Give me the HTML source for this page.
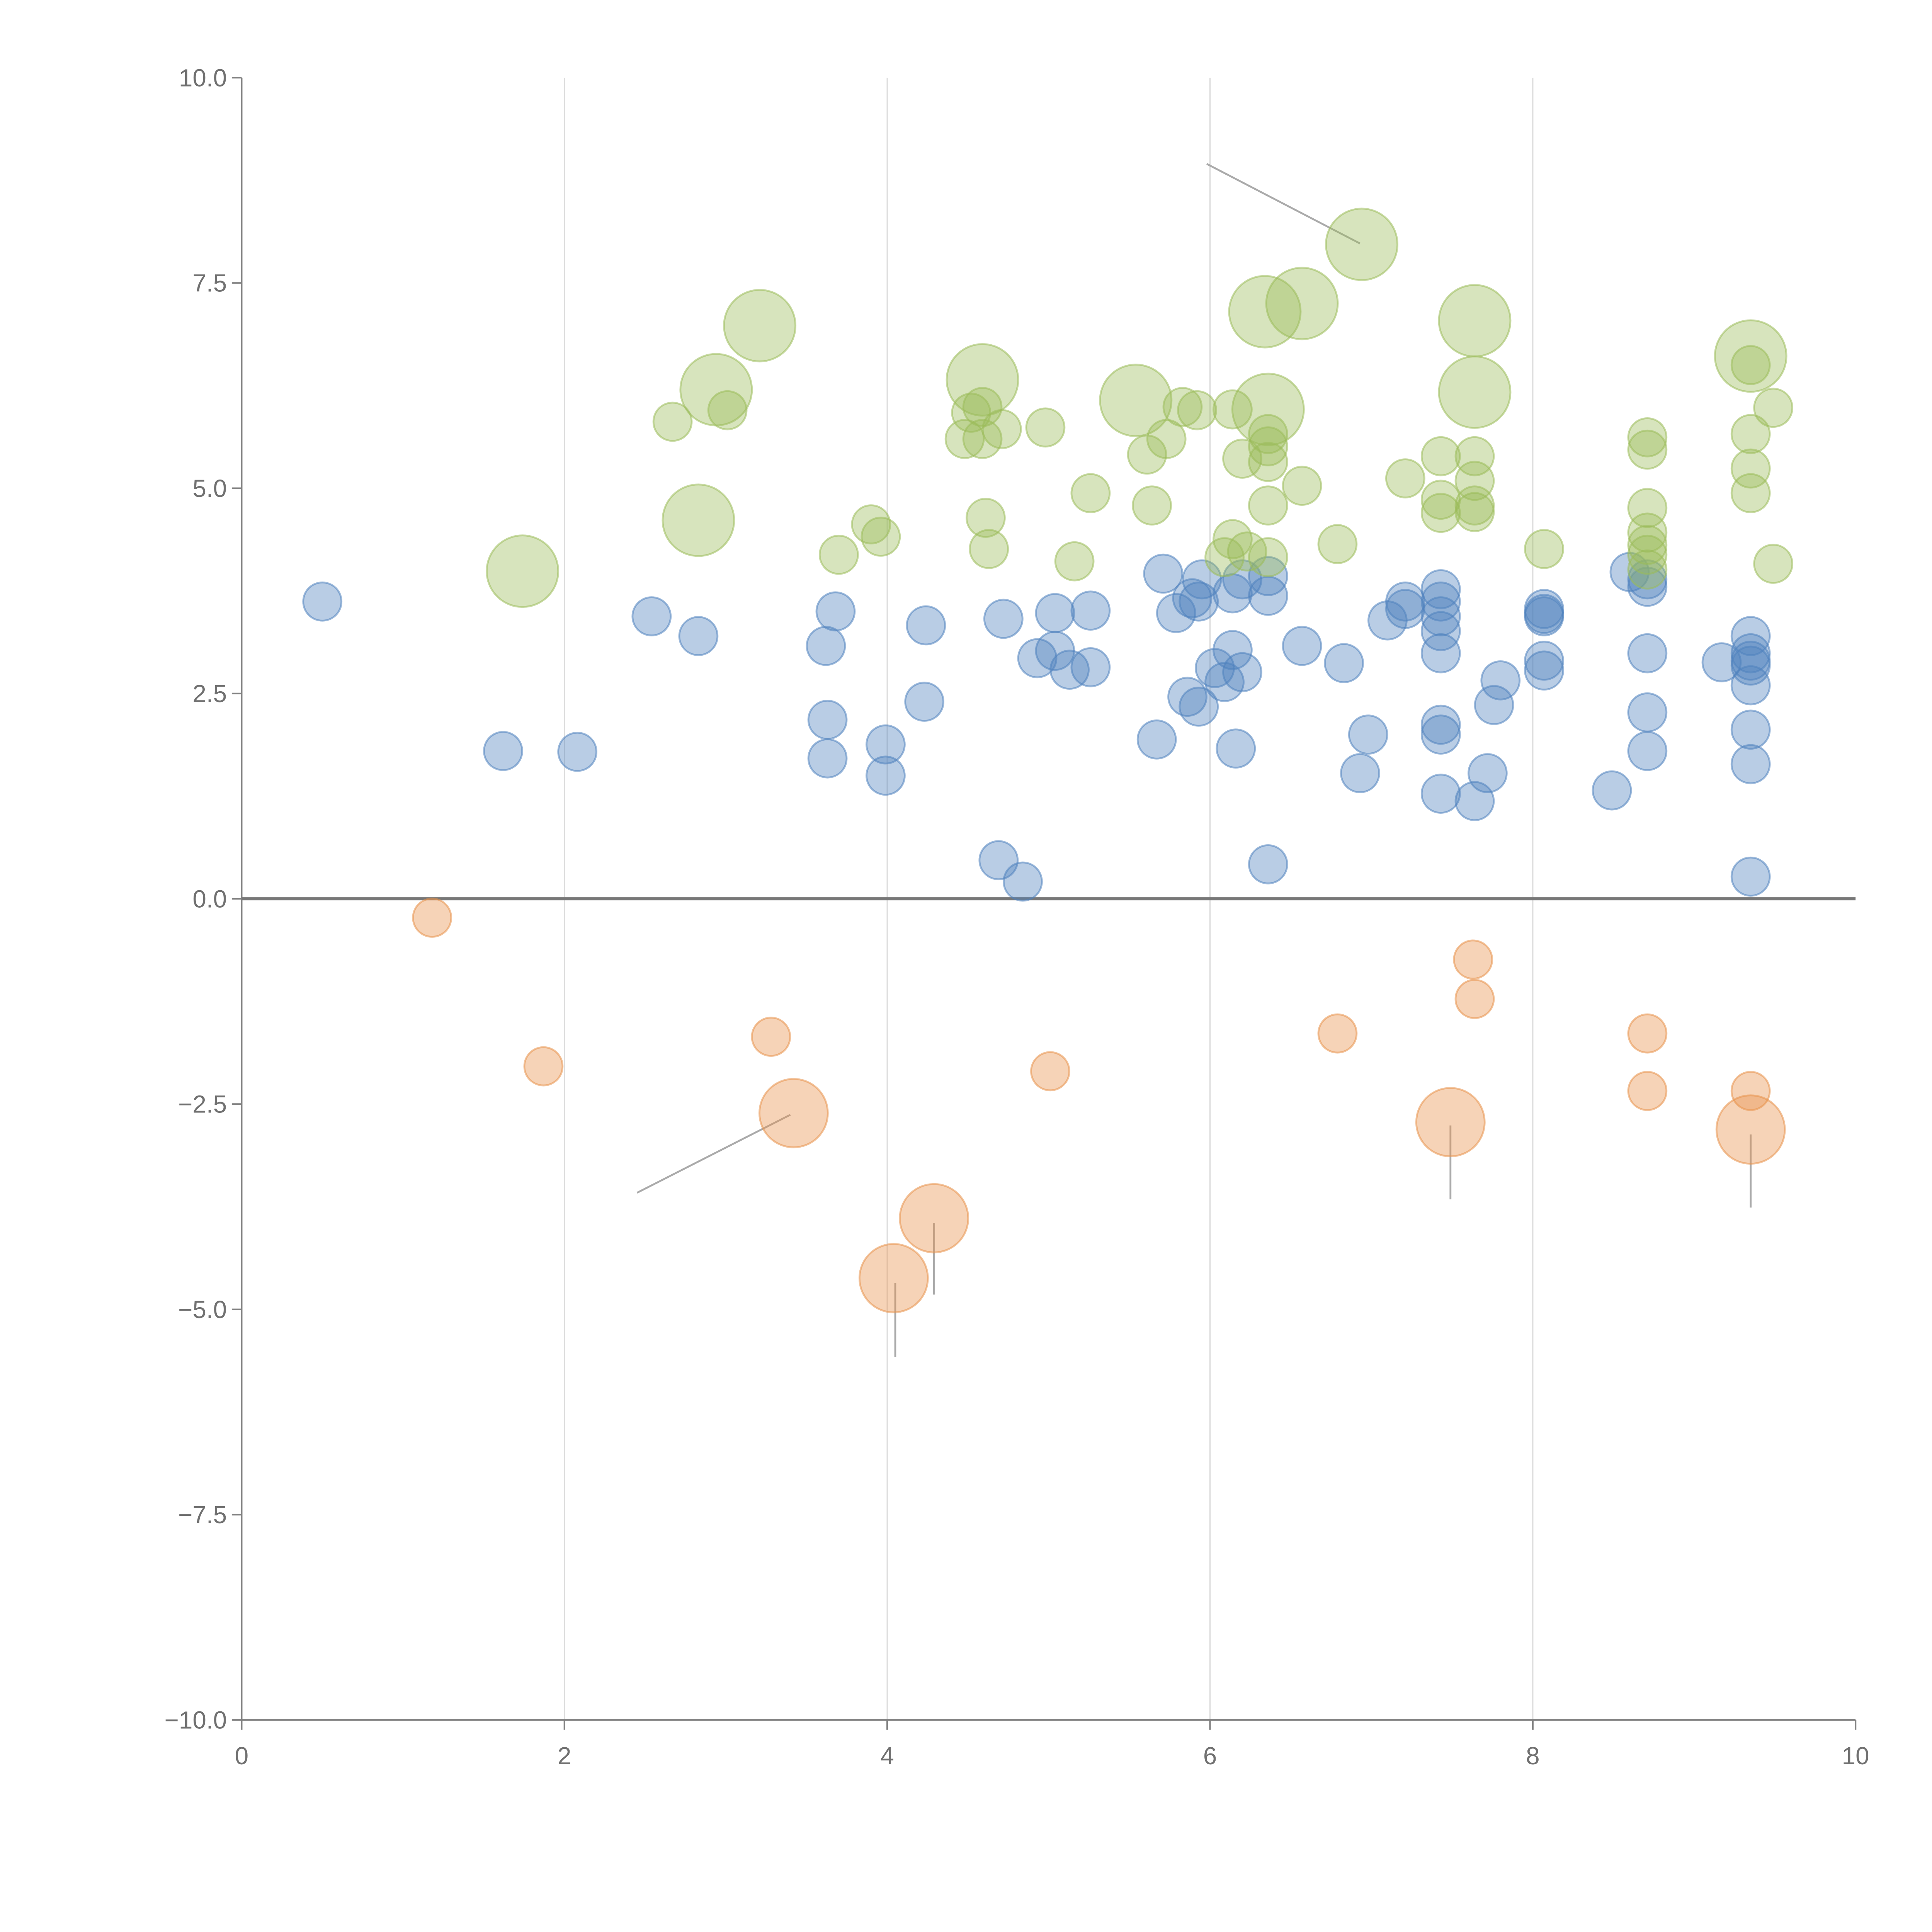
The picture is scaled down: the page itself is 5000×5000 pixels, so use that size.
<!DOCTYPE html>
<html>
<head>
<meta charset="utf-8">
<style>
html,body{margin:0;padding:0;background:#fff;}
svg{display:block;}
text{font-family:"Liberation Sans",Arial,sans-serif;}
</style>
</head>
<body>
<svg id="chart" width="5000" height="5000" viewBox="0 0 1567 1567" xmlns="http://www.w3.org/2000/svg">
  <g id="grid"></g>
  <g id="axes"></g>
  <g id="leaders"></g>
  <g id="marks"></g>
</svg>
<script>
// ---- data ----
const blueX = [0.50,1.62,2.08,2.54,2.83,3.62,3.63,3.63,3.68,3.99,3.99,4.24,4.23,4.69,4.72,4.84,4.93,5.04,5.04,5.13,5.26,5.26,5.67,5.71,5.79,5.86,5.89,5.93,5.93,5.95,6.03,6.09,6.14,6.16,6.14,6.20,6.20,6.36,6.36,6.36,6.57,6.83,6.93,6.98,7.10,7.21,7.21,7.43,7.43,7.43,7.43,7.43,7.43,7.43,7.43,7.64,7.72,7.76,7.80,8.07,8.07,8.07,8.07,8.07,8.49,8.60,8.71,8.71,8.71,8.71,8.71,9.17,9.35,9.35,9.35,9.35,9.35,9.35,9.35,9.35];
const blueY = [3.62,1.80,1.79,3.44,3.20,3.08,2.18,1.71,3.50,1.88,1.50,3.33,2.40,0.47,3.41,0.21,2.93,3.48,3.02,2.79,2.82,3.51,1.94,3.96,3.48,2.46,3.66,2.34,3.62,3.89,2.81,2.64,3.03,1.83,3.72,2.76,3.89,3.93,3.69,0.42,3.08,2.87,1.53,2.00,3.39,3.62,3.53,3.77,3.62,3.44,3.26,2.99,2.12,2.00,1.28,1.19,1.53,2.36,2.66,3.53,3.44,2.90,2.78,3.47,1.32,3.98,3.89,3.80,2.99,2.27,1.80,2.88,3.20,2.99,2.90,2.84,2.60,2.06,1.64,0.27];

const orangeX = [1.18,1.87,3.28,3.42,4.04,4.29,5.01,6.79,7.49,7.63,7.64,8.71,8.71,9.35,9.35];
const orangeY = [-0.23,-2.04,-1.68,-2.61,-4.62,-3.89,-2.10,-1.64,-2.72,-0.74,-1.22,-1.64,-2.34,-2.34,-2.81];
const orangeSize = [1,1,1,3.2,3.2,3.2,1,1,3.2,1,1,1,1,1,3.2];

const greenX = [1.74,2.67,2.83,2.94,3.01,3.21,3.70,3.90,3.96,4.48,4.52,4.59,4.59,4.59,4.61,4.63,4.71,4.98,5.16,5.26,5.54,5.61,5.64,5.73,5.83,5.92,6.09,6.14,6.14,6.20,6.23,6.34,6.36,6.36,6.36,6.36,6.36,6.36,6.57,6.57,6.79,6.94,7.21,7.43,7.43,7.43,7.64,7.64,7.64,7.64,7.64,7.64,8.07,8.71,8.71,8.71,8.71,8.71,8.71,8.71,9.35,9.35,9.35,9.35,9.35,9.49,9.49];
const greenY = [3.99,5.81,4.61,6.20,5.95,6.98,4.19,4.56,4.41,5.60,5.92,6.32,5.60,5.99,4.64,4.26,5.72,5.74,4.11,4.94,6.07,5.41,4.79,5.60,5.99,5.95,4.16,5.96,4.38,5.36,4.23,7.15,5.96,5.66,5.51,4.79,4.16,5.32,7.25,5.03,4.32,7.97,5.12,5.39,4.86,4.70,7.04,6.17,5.39,5.09,4.79,4.71,4.26,5.62,5.47,4.76,4.46,4.31,4.19,4.01,6.61,6.50,5.66,5.24,4.94,5.98,4.08];
const greenSize = [3.5,1,3.5,3.5,1,3.5,1,1,1,1,1,3.5,1,1,1,1,1,1,1,1,3.5,1,1,1,1,1,1,1,1,1,1,3.5,3.5,1,1,1,1,1,3.5,1,1,3.5,1,1,1,1,3.5,3.5,1,1,1,1,1,1,1,1,1,1,1,1,3.5,1,1,1,1,1,1];

const xTicks = [0,2,4,6,8,10];
const xTickLabels = ["0","2","4","6","8","10"];
const yTicks = [10,7.5,5,2.5,0,-2.5,-5,-7.5,-10];
const yTickLabels = ["10.0","7.5","5.0","2.5","0.0","\u22122.5","\u22125.0","\u22127.5","\u221210.0"];

// leader lines in data units
const leaderFromX = [5.98,2.45,4.05,4.29,7.49,9.35];
const leaderFromY = [8.95,-3.58,-4.68,-3.95,-2.76,-2.87];
const leaderToX = [6.93,3.40,4.05,4.29,7.49,9.35];
const leaderToY = [7.98,-2.63,-5.58,-4.82,-3.66,-3.76];

// ---- scales ----
const X0 = 196, X1 = 1505, Y0 = 1395, Y1 = 63;
function xs(v){ return X0 + (v - 0) / 10 * (X1 - X0); }
function ys(v){ return Y0 - (v + 10) / 20 * (Y0 - Y1); }
function rs(s){ return 15.5 * Math.sqrt(s); }

const NS = "http://www.w3.org/2000/svg";
function mk(tag, attrs, parent){
  const el = document.createElementNS(NS, tag);
  for (const k in attrs) el.setAttribute(k, attrs[k]);
  parent.appendChild(el);
  return el;
}
const grid = document.getElementById('grid');
const axes = document.getElementById('axes');
const leaders = document.getElementById('leaders');
const marks = document.getElementById('marks');

xTicks.forEach(function(t){
  if (t === 0 || t === 10) return;
  const l = mk('line', {x1: xs(t), x2: xs(t), y1: Y1, y2: Y0, stroke: '#dcdcdc', 'stroke-width': 1}, grid);
  
  
});

const ya = mk('line', {x1: X0, x2: X0, y1: Y1, y2: Y0, stroke: '#808080', 'stroke-width': 1.3}, axes);


const xa = mk('line', {x1: X0, x2: X1, y1: Y0, y2: Y0, stroke: '#808080', 'stroke-width': 1.3}, axes);


const zl = mk('line', {x1: X0, x2: X1, y1: ys(0), y2: ys(0), stroke: '#777', 'stroke-width': 2.5}, axes);



yTicks.forEach(function(t, i){
  const tk = mk('line', {x1: X0 - 8, x2: X0, y1: ys(t), y2: ys(t), stroke: '#808080', 'stroke-width': 1.3}, axes);
  
  
  const tx = mk('text', {x: X0 - 12, y: ys(t) + 7, 'text-anchor': 'end', 'font-size': 20, fill: '#707070'}, axes);
  tx.textContent = yTickLabels[i];
  
  
});
xTicks.forEach(function(t, i){
  const tk = mk('line', {x1: xs(t), x2: xs(t), y1: Y0, y2: Y0 + 8, stroke: '#808080', 'stroke-width': 1.3}, axes);
  
  
  const tx = mk('text', {x: xs(t), y: Y0 + 36, 'text-anchor': 'middle', 'font-size': 20, fill: '#707070'}, axes);
  tx.textContent = xTickLabels[i];
  
  
});

leaderFromX.forEach(function(v, i){
  const l = mk('line', {x1: xs(v), y1: ys(leaderFromY[i]), x2: xs(leaderToX[i]), y2: ys(leaderToY[i]), stroke: '#aaaaaa', 'stroke-width': 1.5}, leaders);
  
  
});

function drawSeries(xsArr, ysArr, sizes, rgb, name){
  xsArr.forEach(function(v, i){
    const s = sizes ? sizes[i] : 1;
    const c = mk('circle', {cx: xs(v), cy: ys(ysArr[i]), r: rs(s),
      fill: 'rgba(' + rgb + ',0.4)', stroke: 'rgba(' + rgb + ',0.55)', 'stroke-width': 1.5}, marks);
    
    
  });
}
drawSeries(blueX, blueY, null, '79,129,189', 'blue-bubble');
drawSeries(greenX, greenY, greenSize, '155,187,89', 'green-bubble');
drawSeries(orangeX, orangeY, orangeSize, '232,145,75', 'orange-bubble');
</script>
</body>
</html>
